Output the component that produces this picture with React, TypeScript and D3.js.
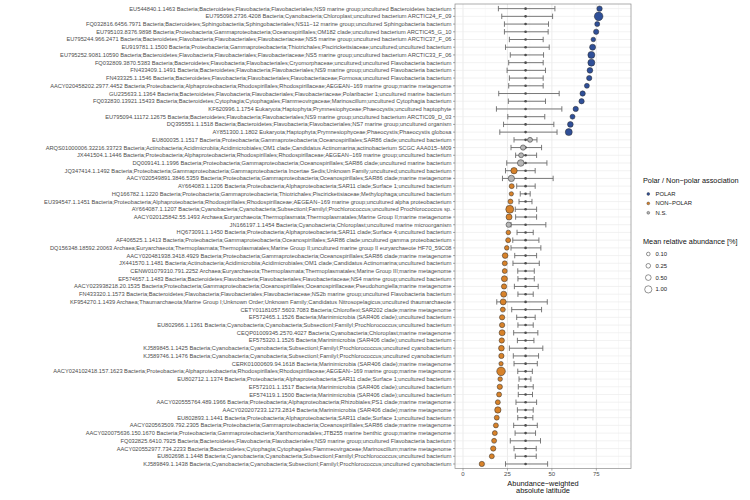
import React from "react";
import * as d3 from "d3";

// one row per taxon, top to bottom
const taxa = [
  "EU544840.1.1463 Bacteria;Bacteroidetes;Flavobacteria;Flavobacteriales;NS9 marine group;uncultured Bacteroidetes bacterium",
  "EU795098.2736.4208 Bacteria;Cyanobacteria;Chloroplast;uncultured bacterium ARCTIC24_F_09",
  "FQ032816.6456.7971 Bacteria;Bacteroidetes;Sphingobacteriia;Sphingobacteriales;NS11−12 marine group;uncultured Sphingobacteria bacterium",
  "EU795103.8376.9898 Bacteria;Proteobacteria;Gammaproteobacteria;Oceanospirillales;OM182 clade;uncultured bacterium ARCTIC45_G_10",
  "EU795244.966.2471 Bacteria;Bacteroidetes;Flavobacteria;Flavobacteriales;Flavobacteriaceae;NS5 marine group;uncultured bacterium ARCTIC37_F_06",
  "EU919781.1.1500 Bacteria;Proteobacteria;Gammaproteobacteria;Thiotrichales;Piscirickettsiaceae;uncultured;uncultured bacterium",
  "EU795252.9081.10590 Bacteria;Bacteroidetes;Flavobacteria;Flavobacteriales;Flavobacteriaceae;NS5 marine group;uncultured bacterium ARCTIC33_F_06",
  "FQ032809.3870.5383 Bacteria;Bacteroidetes;Flavobacteria;Flavobacteriales;Cryomorphaceae;uncultured;uncultured Flavobacteria bacterium",
  "FN433409.1.1491 Bacteria;Bacteroidetes;Flavobacteria;Flavobacteriales;NS9 marine group;uncultured Flavobacteria bacterium",
  "FN433325.1.1546 Bacteria;Bacteroidetes;Flavobacteria;Flavobacteriales;Flavobacteriaceae;Formosa;uncultured Flavobacteria bacterium",
  "AACY020458202.2977.4452 Bacteria;Proteobacteria;Alphaproteobacteria;Rhodospirillales;Rhodospirillaceae;AEGEAN−169 marine group;marine metagenome",
  "GU235633.1.1364 Bacteria;Bacteroidetes;Flavobacteria;Flavobacteriales;Flavobacteriaceae;Polaribacter 1;uncultured marine bacterium",
  "FQ032830.13921.15433 Bacteria;Bacteroidetes;Cytophagia;Cytophagales;Flammeovirgaceae;Marinoscillum;uncultured Cytophagia bacterium",
  "KF620996.1.1754 Eukaryota;Haptophyta;Prymnesiophyceae;Phaeocystis;uncultured haptophyte",
  "EU795094.11172.12675 Bacteria;Bacteroidetes;Flavobacteria;Flavobacteriales;NS9 marine group;uncultured bacterium ARCTIC09_D_03",
  "DQ395551.1.1518 Bacteria;Bacteroidetes;Flavobacteria;Flavobacteriales;NS7 marine group;uncultured organism",
  "AY851300.1.1802 Eukaryota;Haptophyta;Prymnesiophyceae;Phaeocystis;Phaeocystis globosa",
  "EU800035.1.1517 Bacteria;Proteobacteria;Gammaproteobacteria;Oceanospirillales;SAR86 clade;uncultured bacterium",
  "ARQS01000006.32216.33723 Bacteria;Actinobacteria;Acidimicrobiia;Acidimicrobiales;OM1 clade;Candidatus Actinomarina;actinobacterium SCGC AAA015−M09",
  "JX441504.1.1446 Bacteria;Proteobacteria;Alphaproteobacteria;Rhodospirillales;Rhodospirillaceae;AEGEAN−169 marine group;uncultured bacterium",
  "DQ009141.1.1996 Bacteria;Proteobacteria;Gammaproteobacteria;Oceanospirillales;SAR86 clade;uncultured marine bacterium",
  "JQ347414.1.1492 Bacteria;Proteobacteria;Gammaproteobacteria;Gammaproteobacteria Incertae Sedis;Unknown Family;uncultured;uncultured bacterium",
  "AACY020549891.3846.5359 Bacteria;Proteobacteria;Gammaproteobacteria;Oceanospirillales;SAR86 clade;marine metagenome",
  "AY664083.1.1206 Bacteria;Proteobacteria;Alphaproteobacteria;SAR11 clade;Surface 1;uncultured bacterium",
  "HQ166782.1.1220 Bacteria;Proteobacteria;Gammaproteobacteria;Thiotrichales;Piscirickettsiaceae;Methylophaga;uncultured bacterium",
  "EU394547.1.1451 Bacteria;Proteobacteria;Alphaproteobacteria;Rhodospirillales;Rhodospirillaceae;AEGEAN−169 marine group;uncultured alpha proteobacterium",
  "AY664087.1.1207 Bacteria;Cyanobacteria;Cyanobacteria;SubsectionI;FamilyI;Prochlorococcus;uncultured Prochlorococcus sp.",
  "AACY020125842.55.1493 Archaea;Euryarchaeota;Thermoplasmata;Thermoplasmatales;Marine Group II;marine metagenome",
  "JN166197.1.1454 Bacteria;Cyanobacteria;Chloroplast;uncultured marine microorganism",
  "HQ673091.1.1450 Bacteria;Proteobacteria;Alphaproteobacteria;SAR11 clade;Surface 4;uncultured bacterium",
  "AF406525.1.1413 Bacteria;Proteobacteria;Gammaproteobacteria;Oceanospirillales;SAR86 clade;uncultured gamma proteobacterium",
  "DQ156348.18592.20063 Archaea;Euryarchaeota;Thermoplasmata;Thermoplasmatales;Marine Group II;uncultured marine group II euryarchaeote HF70_59C08",
  "AACY020481938.3418.4929 Bacteria;Proteobacteria;Gammaproteobacteria;Oceanospirillales;SAR86 clade;marine metagenome",
  "JX441570.1.1481 Bacteria;Actinobacteria;Acidimicrobiia;Acidimicrobiales;OM1 clade;Candidatus Actinomarina;uncultured bacterium",
  "CENW01079310.791.2252 Archaea;Euryarchaeota;Thermoplasmata;Thermoplasmatales;Marine Group III;marine metagenome",
  "EF574657.1.1483 Bacteria;Bacteroidetes;Flavobacteria;Flavobacteriales;Flavobacteriaceae;NS4 marine group;uncultured bacterium",
  "AACY023938218.20.1535 Bacteria;Proteobacteria;Gammaproteobacteria;Oceanospirillales;Oceanospirillaceae;Pseudohongiella;marine metagenome",
  "FN433320.1.1573 Bacteria;Bacteroidetes;Flavobacteria;Flavobacteriales;Flavobacteriaceae;NS2b marine group;uncultured Flavobacteria bacterium",
  "KF954270.1.1439 Archaea;Thaumarchaeota;Marine Group I;Unknown Order;Unknown Family;Candidatus Nitrosopelagicus;uncultured thaumarchaeote",
  "CETY01181057.5603.7083 Bacteria;Chloroflexi;SAR202 clade;marine metagenome",
  "EF572465.1.1526 Bacteria;Marinimicrobia (SAR406 clade);uncultured bacterium",
  "EU802966.1.1361 Bacteria;Cyanobacteria;Cyanobacteria;SubsectionI;FamilyI;Prochlorococcus;uncultured bacterium",
  "CEQP01009345.2570.4027 Bacteria;Cyanobacteria;Chloroplast;marine metagenome",
  "EF575320.1.1526 Bacteria;Marinimicrobia (SAR406 clade);uncultured bacterium",
  "KJ589845.1.1425 Bacteria;Cyanobacteria;Cyanobacteria;SubsectionI;FamilyI;Prochlorococcus;uncultured cyanobacterium",
  "KJ589746.1.1476 Bacteria;Cyanobacteria;Cyanobacteria;SubsectionI;FamilyI;Prochlorococcus;uncultured cyanobacterium",
  "CERK01000609.94.1618 Bacteria;Marinimicrobia (SAR406 clade);marine metagenome",
  "AACY024102418.157.1623 Bacteria;Proteobacteria;Alphaproteobacteria;Rhodospirillales;Rhodospirillaceae;AEGEAN−169 marine group;marine metagenome",
  "EU802712.1.1374 Bacteria;Proteobacteria;Alphaproteobacteria;SAR11 clade;Surface 1;uncultured bacterium",
  "EF572101.1.1517 Bacteria;Marinimicrobia (SAR406 clade);uncultured bacterium",
  "EF574119.1.1500 Bacteria;Marinimicrobia (SAR406 clade);uncultured bacterium",
  "AACY020555764.489.1966 Bacteria;Proteobacteria;Alphaproteobacteria;Rhizobiales;PS1 clade;marine metagenome",
  "AACY020207233.1273.2814 Bacteria;Marinimicrobia (SAR406 clade);marine metagenome",
  "EU802893.1.1441 Bacteria;Proteobacteria;Alphaproteobacteria;SAR11 clade;Surface 1;uncultured bacterium",
  "AACY020563509.792.2305 Bacteria;Proteobacteria;Gammaproteobacteria;Oceanospirillales;SAR86 clade;marine metagenome",
  "AACY020075636.150.1670 Bacteria;Proteobacteria;Gammaproteobacteria;Xanthomonadales;JTB255 marine benthic group;marine metagenome",
  "FQ032825.6410.7925 Bacteria;Bacteroidetes;Flavobacteria;Flavobacteriales;NS9 marine group;uncultured Flavobacteria bacterium",
  "AACY020552977.734.2233 Bacteria;Bacteroidetes;Cytophagia;Cytophagales;Flammeovirgaceae;Marinoscillum;marine metagenome",
  "EU802698.1.1448 Bacteria;Cyanobacteria;Cyanobacteria;SubsectionI;FamilyI;Prochlorococcus;uncultured bacterium",
  "KJ589849.1.1438 Bacteria;Cyanobacteria;Cyanobacteria;SubsectionI;FamilyI;Prochlorococcus;uncultured cyanobacterium",
];

// abundance-weighted absolute latitude (the coloured points)
const latitude = [
  76.8, 76.3, 75.5, 74.9, 73.3, 72.9, 72.2, 72.2, 71.4, 71.0,
  69.7, 67.3, 66.7, 63.4, 61.6, 60.4, 59.5, 37.7, 33.8, 32.7,
  32.5, 28.7, 27.2, 27.4, 27.2, 26.7, 26.3, 25.9, 25.7, 25.5,
  25.4, 24.6, 23.7, 23.5, 23.5, 23.3, 23.1, 22.9, 22.6, 22.4,
  22.0, 22.0, 22.0, 21.8, 21.6, 21.6, 21.4, 21.4, 20.9, 20.7,
  20.3, 19.6, 19.6, 19.0, 18.5, 17.9, 17.5, 17.0, 16.2, 10.6,
];

// P = POLAR, N = NON-POLAR, S = N.S.
const association = [
  "P", "P", "P", "P", "P", "P", "P", "P", "P", "P",
  "P", "P", "P", "P", "P", "P", "P", "S", "S", "S",
  "S", "N", "S", "N", "N", "N", "N", "N", "S", "N",
  "N", "N", "N", "N", "N", "N", "N", "N", "N", "N",
  "N", "N", "N", "N", "N", "N", "N", "N", "N", "N",
  "N", "N", "N", "N", "N", "N", "N", "N", "N", "N",
];

// mean relative abundance [%]
const abundance = [
  0.42, 1.6, 0.33, 0.4, 0.25, 0.59, 0.92, 0.92, 0.5, 0.4,
  0.33, 0.4, 0.4, 0.4, 0.33, 0.5, 0.92, 0.33, 0.4, 0.33,
  0.8, 0.7, 0.7, 0.33, 0.2, 0.33, 1.3, 0.6, 0.4, 0.25,
  0.33, 0.25, 0.5, 0.33, 0.33, 0.6, 0.4, 0.6, 0.6, 0.33,
  0.4, 0.4, 0.6, 0.4, 0.5, 0.4, 0.2, 1.6, 0.25, 0.4,
  0.33, 0.33, 0.7, 0.33, 0.33, 0.33, 0.33, 0.4, 0.33, 0.4,
];

// null distribution: mean and lower / upper whiskers
const nullMean = 35.2;
const nullLow = [
  19.9, 21.8, 23.3, 23.3, 26.1, 23.9, 26.6, 25.7, 24.8, 26.1,
  25.7, 20.1, 25.5, 18.8, 25.2, 22.8, 20.7, 28.7, 27.0, 29.6,
  24.6, 23.9, 22.2, 30.2, 32.2, 31.5, 29.4, 29.6, 27.0, 30.4,
  28.0, 27.0, 29.1, 28.1, 30.8, 30.9, 28.9, 30.9, 19.0, 27.4,
  30.2, 30.9, 28.5, 30.6, 26.1, 28.3, 28.7, 30.8, 31.5, 31.1,
  31.1, 29.8, 30.6, 30.8, 28.5, 29.3, 26.6, 28.7, 29.4, 23.9,
];
const nullHigh = [
  51.7, 50.4, 48.1, 47.9, 45.1, 48.5, 45.3, 45.1, 46.4, 45.1,
  45.1, 54.1, 46.4, 55.6, 46.0, 51.1, 52.9, 41.6, 44.2, 41.4,
  47.2, 40.6, 50.7, 40.6, 37.8, 38.8, 41.4, 41.4, 46.6, 39.5,
  42.7, 43.8, 41.4, 42.9, 40.1, 40.1, 42.3, 39.5, 47.4, 44.2,
  40.6, 39.5, 42.1, 39.9, 44.9, 42.5, 41.8, 39.0, 38.2, 39.5,
  39.1, 41.4, 39.5, 39.3, 41.8, 40.8, 43.6, 41.2, 41.2, 47.6,
];

const xTicks = [0, 25, 50, 75];
const groupKeys = ["P", "N", "S"];
const groupNames = ["POLAR", "NON−POLAR", "N.S."];
const groupColors = ["#2f4f98", "#d7822a", "#b5b5b5"];
const sizeBreaks = [0.1, 0.25, 0.5, 1.0];

const FONT = "'Liberation Sans', Arial, Helvetica, sans-serif";

export default function App() {
  const W = 750;
  const H = 500;
  const panel = { left: 455, right: 631, top: 4, bottom: 468.6 };

  const x = d3.scaleLinear().domain([-4.5, 94.5]).range([panel.left, panel.right]);
  const y = d3
    .scalePoint<string>()
    .domain(taxa)
    .range([panel.top, panel.bottom])
    .padding(0.6);
  const r = d3.scaleSqrt().domain([0, 1.6]).range([1.0, 4.3]);
  const color = d3.scaleOrdinal<string, string>().domain(groupKeys).range(groupColors);

  const minor = [12.5, 37.5, 62.5, 87.5];
  const capH = y.step() * 0.35;

  const legX = 643;

  return (
    <svg
      width={W}
      height={H}
      style={{ position: "absolute", left: 0, top: 0, background: "#fff" }}
      fontFamily={FONT}
    >
      {/* panel grid */}
      <g>
        {minor.map((v) => (
          <line key={"mi" + v} x1={x(v)} x2={x(v)} y1={panel.top} y2={panel.bottom} stroke="#f3f3f3" strokeWidth={0.5} />
        ))}
        {xTicks.map((v) => (
          <line key={"ma" + v} x1={x(v)} x2={x(v)} y1={panel.top} y2={panel.bottom} stroke="#e6e6e6" strokeWidth={0.8} />
        ))}
        {taxa.map((t) => (
          <line key={"h" + t} x1={panel.left} x2={panel.right} y1={y(t)} y2={y(t)} stroke="#ececec" strokeWidth={0.7} />
        ))}
      </g>

      {/* null-model error bars */}
      <g stroke="#6b6b6b" strokeWidth={0.9}>
        {taxa.map((t, i) => {
          const cy = y(t) as number;
          return (
            <g key={"e" + i}>
              <line x1={x(nullLow[i])} x2={x(nullHigh[i])} y1={cy} y2={cy} />
              <line x1={x(nullLow[i])} x2={x(nullLow[i])} y1={cy - capH} y2={cy + capH} />
              <line x1={x(nullHigh[i])} x2={x(nullHigh[i])} y1={cy - capH} y2={cy + capH} />
            </g>
          );
        })}
      </g>
      <g fill="#4d4d4d">
        {taxa.map((t, i) => (
          <circle key={"m" + i} cx={x(nullMean)} cy={y(t)} r={1.3} />
        ))}
      </g>

      {/* observed points */}
      <g stroke="#2b2b2b" strokeWidth={0.5}>
        {taxa.map((t, i) => (
          <circle
            key={"p" + i}
            cx={x(latitude[i])}
            cy={y(t)}
            r={r(abundance[i])}
            fill={color(association[i])}
          />
        ))}
      </g>

      {/* panel border */}
      <rect
        x={panel.left}
        y={panel.top}
        width={panel.right - panel.left}
        height={panel.bottom - panel.top}
        fill="none"
        stroke="#8a8a8a"
        strokeWidth={0.7}
      />

      {/* y axis */}
      <g fontSize={5.7} fill="#4d4d4d" textAnchor="end">
        {taxa.map((t) => (
          <g key={"yl" + t}>
            <line x1={panel.left - 2} x2={panel.left} y1={y(t)} y2={y(t)} stroke="#555" strokeWidth={0.5} />
            <text x={panel.left - 3.5} y={y(t)} dy="0.35em">
              {t}
            </text>
          </g>
        ))}
      </g>

      {/* x axis */}
      <g fontSize={6} fill="#4d4d4d" textAnchor="middle">
        {xTicks.map((v) => (
          <g key={"xt" + v}>
            <line x1={x(v)} x2={x(v)} y1={panel.bottom} y2={panel.bottom + 2} stroke="#555" strokeWidth={0.5} />
            <text x={x(v)} y={panel.bottom + 7.5}>
              {v}
            </text>
          </g>
        ))}
      </g>
      <text x={(panel.left + panel.right) / 2} y={485.5} fontSize={7.4} textAnchor="middle" fill="#111">
        <tspan x={(panel.left + panel.right) / 2}>Abundance−weighted</tspan>
        <tspan x={(panel.left + panel.right) / 2} dy={7.6}>absolute latitude</tspan>
      </text>

      {/* colour legend */}
      <text x={legX} y={182.5} fontSize={7.3} fill="#111">
        Polar / Non−polar association
      </text>
      {groupKeys.map((k, i) => (
        <g key={"lg" + k}>
          <circle cx={legX + 5.3} cy={194 + i * 9.4} r={1.4} fill={color(k)} stroke="#2b2b2b" strokeWidth={0.4} />
          <text x={legX + 12.5} y={194 + i * 9.4} dy="0.35em" fontSize={5.9} fill="#222">
            {groupNames[i]}
          </text>
        </g>
      ))}

      {/* size legend */}
      <text x={legX} y={244} fontSize={7.3} fill="#111">
        Mean relative abundance [%]
      </text>
      {sizeBreaks.map((s, i) => (
        <g key={"ls" + s}>
          <circle cx={legX + 5.3} cy={254 + i * 11.8} r={r(s)} fill="#fff" stroke="#2b2b2b" strokeWidth={0.5} />
          <text x={legX + 12.5} y={254 + i * 11.8} dy="0.35em" fontSize={5.9} fill="#222">
            {d3.format(".2f")(s)}
          </text>
        </g>
      ))}
    </svg>
  );
}
